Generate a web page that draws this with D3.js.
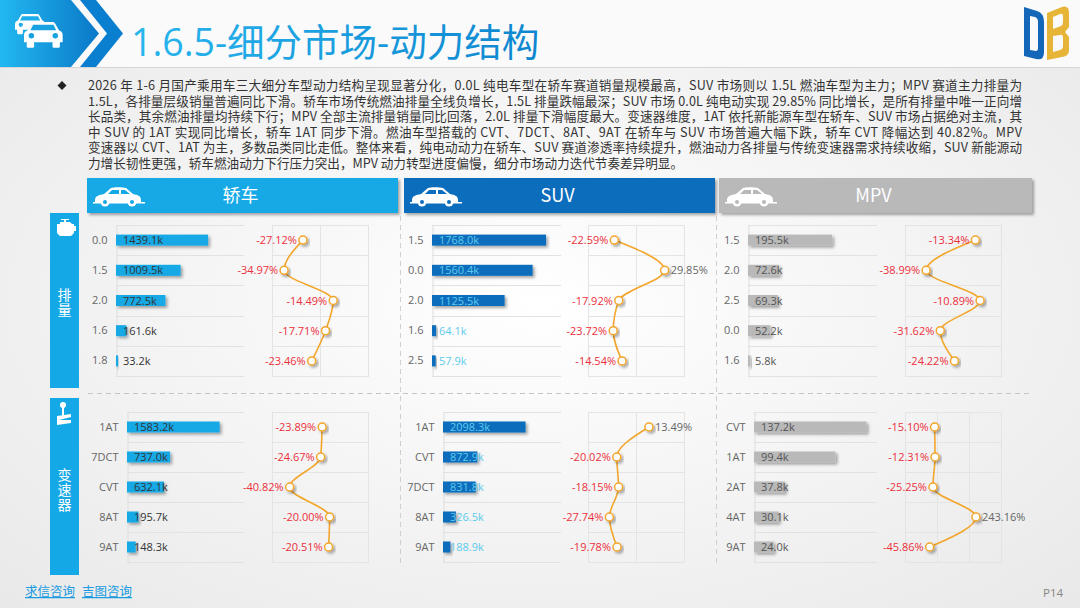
<!DOCTYPE html>
<html>
<head>
<meta charset="utf-8">
<script src="https://cdn.jsdelivr.net/npm/d3@7/dist/d3.min.js"></script>
<style>
  body { margin: 0; background: #f3f3f3; }
  svg { display: block; font-family: "Noto Sans CJK SC", "Noto Sans", sans-serif; }
</style>
</head>
<body>
<svg id="chart" width="1080" height="608"></svg>
<script>
// ---- data ----
var sedanEngineCats = ['0.0', '1.5', '2.0', '1.6', '1.8']
  , sedanEngineSales = [1439.1, 1009.5, 772.5, 161.6, 33.2]
  , sedanEngineYoy = [-27.12, -34.97, -14.49, -17.71, -23.46]

var suvEngineCats = ['1.5', '0.0', '2.0', '1.6', '2.5']
  , suvEngineSales = [1768.0, 1560.4, 1125.5, 64.1, 57.9]
  , suvEngineYoy = [-22.59, 29.85, -17.92, -23.72, -14.54]

var mpvEngineCats = ['1.5', '2.0', '2.5', '0.0', '1.6']
  , mpvEngineSales = [195.5, 72.6, 69.3, 52.2, 5.8]
  , mpvEngineYoy = [-13.34, -38.99, -10.89, -31.62, -24.22]

var sedanTransCats = ['1AT', '7DCT', 'CVT', '8AT', '9AT']
  , sedanTransSales = [1583.2, 737.0, 632.1, 195.7, 148.3]
  , sedanTransYoy = [-23.89, -24.67, -40.82, -20.00, -20.51]

var suvTransCats = ['1AT', 'CVT', '7DCT', '8AT', '9AT']
  , suvTransSales = [2098.3, 872.9, 831.8, 326.5, 188.9]
  , suvTransYoy = [13.49, -20.02, -18.15, -27.74, -19.78]

var mpvTransCats = ['CVT', '1AT', '2AT', '4AT', '9AT']
  , mpvTransSales = [137.2, 99.4, 37.8, 30.1, 24.0]
  , mpvTransYoy = [-15.10, -12.31, -25.25, 243.16, -45.86]

var segmentNames = ['轿车', 'SUV', 'MPV']
var groupNames = ['排量', '变速器']

var title = '1.6.5-细分市场-动力结构'
var paragraph = [
  '2026 年 1-6 月国产乘用车三大细分车型动力结构呈现显著分化，0.0L 纯电车型在轿车赛道销量规模最高，SUV 市场则以 1.5L 燃油车型为主力；MPV 赛道主力排量为',
  '1.5L，各排量层级销量普遍同比下滑。轿车市场传统燃油排量全线负增长，1.5L 排量跌幅最深；SUV 市场 0.0L 纯电动实现 29.85% 同比增长，是所有排量中唯一正向增',
  '长品类，其余燃油排量均持续下行；MPV 全部主流排量销量同比回落，2.0L 排量下滑幅度最大。变速器维度，1AT 依托新能源车型在轿车、SUV 市场占据绝对主流，其',
  '中 SUV 的 1AT 实现同比增长，轿车 1AT 同步下滑。燃油车型搭载的 CVT、7DCT、8AT、9AT 在轿车与 SUV 市场普遍大幅下跌，轿车 CVT 降幅达到 40.82%。MPV',
  '变速器以 CVT、1AT 为主，多数品类同比走低。整体来看，纯电动动力在轿车、SUV 赛道渗透率持续提升，燃油动力各排量与传统变速器需求持续收缩，SUV 新能源动',
  '力增长韧性更强，轿车燃油动力下行压力突出，MPV 动力转型进度偏慢，细分市场动力迭代节奏差异明显。'
]

// ---- layout ----
var colors = { sedan: '#14a9e6', suv: '#0b6dbd', mpv: '#b9b9b9', line: '#f2a62c', neg: '#ec2f3b', pos: '#666' }
var rowsEngine = [225, 376], rowsTrans = [412, 562]

var panels = [
  { cats: sedanEngineCats, sales: sedanEngineSales, yoy: sedanEngineYoy, rows: rowsEngine, bar: colors.sedan, lab: '#333',
    barX: [116, 244], barMax: 2000, lineX: [272, 368], dom: [-40, 0], grid: [-20] },
  { cats: suvEngineCats, sales: suvEngineSales, yoy: suvEngineYoy, rows: rowsEngine, bar: colors.suv, lab: '#5ccbec',
    barX: [432, 561], barMax: 2000, lineX: [588, 684], dom: [-50, 50], grid: [0] },
  { cats: mpvEngineCats, sales: mpvEngineSales, yoy: mpvEngineYoy, rows: rowsEngine, bar: colors.mpv, lab: '#555',
    barX: [748, 877], barMax: 300, lineX: [905, 1001], dom: [-50, 0], grid: [] },
  { cats: sedanTransCats, sales: sedanTransSales, yoy: sedanTransYoy, rows: rowsTrans, bar: colors.sedan, lab: '#333',
    barX: [127, 244], barMax: 2000, lineX: [272, 368], dom: [-50, 0], grid: [] },
  { cats: suvTransCats, sales: suvTransSales, yoy: suvTransYoy, rows: rowsTrans, bar: colors.suv, lab: '#5ccbec',
    barX: [443, 561], barMax: 3000, lineX: [588, 684], dom: [-50, 50], grid: [0] },
  { cats: mpvTransCats, sales: mpvTransSales, yoy: mpvTransYoy, rows: rowsTrans, bar: colors.mpv, lab: '#555',
    barX: [754, 877], barMax: 150, lineX: [905, 1001], dom: [-200, 400], grid: [0, 200] }
]

var svg = d3.select('#chart')
var defs = svg.append('defs')

var bg = defs.append('radialGradient').attr('id', 'bg').attr('cx', '50%').attr('cy', '50%').attr('r', '70%')
bg.append('stop').attr('offset', '0%').attr('stop-color', '#ffffff')
bg.append('stop').attr('offset', '100%').attr('stop-color', '#e9e9e9')

var hdr = defs.append('linearGradient').attr('id', 'hdr')
hdr.append('stop').attr('offset', '0%').attr('stop-color', '#22b8f0')
hdr.append('stop').attr('offset', '100%').attr('stop-color', '#0a78c8')

var ttl = defs.append('linearGradient').attr('id', 'ttl')
ttl.append('stop').attr('offset', '0%').attr('stop-color', '#27b6ee')
ttl.append('stop').attr('offset', '100%').attr('stop-color', '#0d86cf')

var shadow = defs.append('filter').attr('id', 'shadow').attr('x', '-20%').attr('y', '-50%').attr('width', '150%').attr('height', '220%')
shadow.append('feDropShadow').attr('dx', 2).attr('dy', 2).attr('stdDeviation', 1.4)
  .attr('flood-color', '#000').attr('flood-opacity', 0.35)

svg.append('rect').attr('width', 1080).attr('height', 608).attr('fill', 'url(#bg)')

// ---- header ----
svg.append('rect').attr('width', 1080).attr('height', 67).attr('fill', '#fafafa')
svg.append('line').attr('x1', 0).attr('x2', 1080).attr('y1', 67.5).attr('y2', 67.5).attr('stroke', '#d6d6d6')
svg.append('path').attr('d', 'M0,0 L71,0 L99,33.5 L71,67 L0,67 Z').attr('fill', 'url(#hdr)')
svg.append('path').attr('d', 'M80,0 L96,0 L123,33.5 L96,67 L80,67 L107,33.5 Z').attr('fill', '#0b7fcf')

var carIcon = function(g, fill, hole) {
  g.append('path').attr('fill', fill)
    .attr('d', 'M0,22 L0,14 C0,11 2,10 4,9 L8,2 C9,0 10,0 12,0 L30,0 C32,0 33,0 34,2 L38,9 C40,10 42,11 42,14 L42,22 Z')
  g.append('path').attr('fill', hole).attr('d', 'M10,3 L32,3 L35,9 L7,9 Z')
  g.append('circle').attr('cx', 8).attr('cy', 15).attr('r', 3).attr('fill', hole)
  g.append('circle').attr('cx', 34).attr('cy', 15).attr('r', 3).attr('fill', hole)
  g.append('rect').attr('x', 3).attr('y', 21).attr('width', 8).attr('height', 7).attr('rx', 1.5).attr('fill', fill)
  g.append('rect').attr('x', 31).attr('y', 21).attr('width', 8).attr('height', 7).attr('rx', 1.5).attr('fill', fill)
}
carIcon(svg.append('g').attr('transform', 'translate(15,14) scale(0.72)'), '#fff', '#1cacea')
carIcon(svg.append('g').attr('transform', 'translate(24,22) scale(0.92)'), '#fff', '#18a2e2')

svg.append('text').attr('x', 131).attr('y', 56).attr('font-size', 37.5).attr('fill', 'url(#ttl)')
  .attr('font-family', '"Open Sans", "Noto Sans CJK SC", sans-serif').text(title)

// logo
svg.append('path').attr('fill', '#1466b8').attr('fill-rule', 'evenodd')
  .attr('d', 'M1024,7 L1037,11 Q1044,13 1044,22 L1044,52 Q1044,61 1036,59 L1024,56 Z M1030,16 L1030,50 L1036,51 Q1038,51 1038,48 L1038,22 Q1038,18 1035,17 Z')
svg.append('path').attr('fill', '#e6b437').attr('fill-rule', 'evenodd')
  .attr('d', 'M1047,13 L1062,7 Q1069,5 1069,13 L1069,27 L1065,32 L1069,37 L1069,50 Q1069,56 1062,57 L1047,60 Z M1053,17 L1053,29 L1061,26 Q1063,25 1063,22 L1063,16 Q1063,13 1060,14 Z M1053,36 L1053,52 L1060,50 Q1063,49 1063,46 L1063,38 Q1063,34 1060,35 Z')

// ---- paragraph ----
svg.append('path').attr('d', 'M62,81 L66.5,85.5 L62,90 L57.5,85.5 Z').attr('fill', '#222')
svg.selectAll('text.para').data(paragraph).enter().append('text').attr('class', 'para')
  .attr('x', 88).attr('y', function(d, i) { return 90 + i * 15.5 })
  .attr('font-size', 12.6).attr('fill', '#333')
  .attr('textLength', function(d, i) { return i < paragraph.length - 1 ? 934 : null })
  .attr('lengthAdjust', 'spacing')
  .text(function(d) { return d })

// ---- segment headers ----
var headers = [
  { x: 87, w: 311, c: colors.sedan },
  { x: 404, w: 311, c: colors.suv },
  { x: 719, w: 313, c: colors.mpv }
]
headers.forEach(function(h, i) {
  svg.append('rect').attr('x', h.x).attr('y', 178).attr('width', h.w).attr('height', 35)
    .attr('fill', h.c).attr('filter', 'url(#shadow)')
  svg.append('text').attr('x', h.x + h.w / 2 - 2).attr('y', 202).attr('text-anchor', 'middle')
    .attr('font-size', 18).attr('fill', '#fff').text(segmentNames[i])
  var g = svg.append('g').attr('transform', 'translate(' + (h.x + 6) + ',186)')
  g.append('path').attr('fill', '#fff')
    .attr('d', 'M2,14 C2,10 6,9 11,8 L18,2 C20,1 30,1 33,2 L40,8 C45,9 48,10 48,14 L48,16 L2,16 Z')
  g.append('path').attr('fill', h.c).attr('d', 'M19,4 L26,4 L26,8 L15,8 Z M28,4 L32,4 L37,8 L28,8 Z')
  g.append('rect').attr('x', 0).attr('y', 16).attr('width', 52).attr('height', 1.5).attr('fill', '#fff')
  ;[12, 39].forEach(function(cx) {
    g.append('circle').attr('cx', cx).attr('cy', 16).attr('r', 4.5).attr('fill', '#fff')
    g.append('circle').attr('cx', cx).attr('cy', 16).attr('r', 2).attr('fill', h.c)
  })
})

// ---- left group labels (vertical text) ----
var groups = [
  { y: 213, h: 175, cy: 303 },
  { y: 398, h: 177, cy: 490 }
]
groups.forEach(function(gr, i) {
  svg.append('rect').attr('x', 50).attr('y', gr.y).attr('width', 29).attr('height', gr.h).attr('fill', colors.sedan)
  svg.append('text').attr('x', 64.5).attr('y', gr.cy).attr('text-anchor', 'middle')
    .style('writing-mode', 'vertical-rl').attr('letter-spacing', 1)
    .attr('font-size', 14).attr('fill', '#fff').text(groupNames[i])
})
// engine icon
svg.append('path').attr('fill', '#fff')
  .attr('d', 'M57,224 L60,224 L60,222 L64,222 L64,220 L61,220 L61,219 L69,219 L69,220 L66,220 L66,222 L70,222 L72,224 L74,224 L74,226 L76,226 L76,231 L74,231 L74,233 L71,236 L60,236 L57,233 Z')
// gear stick icon
svg.append('circle').attr('cx', 63).attr('cy', 405).attr('r', 3).attr('fill', '#fff')
svg.append('rect').attr('x', 62).attr('y', 407).attr('width', 2).attr('height', 8).attr('fill', '#fff')
svg.append('path').attr('fill', '#fff').attr('d', 'M57,416 L71,414 L71,417 L59,420 L71,420 L71,423 L57,425 Z')

// ---- dashed separators ----
svg.append('line').attr('x1', 88).attr('x2', 1032).attr('y1', 393.5).attr('y2', 393.5)
  .attr('stroke', '#c4c4c4').attr('stroke-dasharray', '5,4')
;[400.5, 716.5].forEach(function(x) {
  svg.append('line').attr('x1', x).attr('x2', x).attr('y1', 216).attr('y2', 565)
    .attr('stroke', '#cfcfcf').attr('stroke-dasharray', '5,4')
})

// ---- panels ----
panels.forEach(function(p) {
  var g = svg.append('g')
  var y = d3.scaleBand().domain(p.cats).range(p.rows)
  var x = d3.scaleLinear().domain([0, p.barMax]).range(p.barX)
  var lx = d3.scaleLinear().domain(p.dom).range(p.lineX)
  var mid = function(c) { return y(c) + y.bandwidth() / 2 }

  // bar grid rows
  var bounds = p.cats.map(function(c) { return y(c) }).concat([p.rows[1]])
  g.selectAll('line.row').data(bounds).enter().append('line')
    .attr('x1', p.barX[0]).attr('x2', p.barX[1])
    .attr('y1', function(d) { return Math.round(d) + 0.5 }).attr('y2', function(d) { return Math.round(d) + 0.5 })
    .attr('stroke', '#e2e2e2')

  // category axis
  var ax = g.append('g').attr('transform', 'translate(' + (p.barX[0] + 0.5) + ',0)')
    .call(d3.axisLeft(y).tickSize(0).tickPadding(9))
  ax.select('.domain').attr('stroke', '#dedede')
  ax.selectAll('text').attr('font-size', 11).attr('fill', '#666').attr('font-family', '"Open Sans", sans-serif')

  // bars
  g.selectAll('rect.bar').data(p.sales).enter().append('rect')
    .attr('x', p.barX[0]).attr('y', function(d, i) { return mid(p.cats[i]) - 5.5 })
    .attr('width', function(d) { return x(d) - p.barX[0] }).attr('height', 11)
    .attr('fill', p.bar).attr('filter', 'url(#shadow)')
  g.selectAll('text.val').data(p.sales).enter().append('text')
    .attr('x', p.barX[0] + 7).attr('y', function(d, i) { return mid(p.cats[i]) + 4 })
    .attr('font-size', 11).attr('fill', p.lab).attr('font-family', '"Open Sans", sans-serif')
    .text(function(d) { return d.toFixed(1) + 'k' })

  // line box
  g.append('rect').attr('x', p.lineX[0] + 0.5).attr('y', p.rows[0] + 0.5)
    .attr('width', p.lineX[1] - p.lineX[0]).attr('height', p.rows[1] - p.rows[0])
    .attr('fill', 'none').attr('stroke', '#e4e4e4')
  g.selectAll('line.lrow').data(bounds.slice(1, -1)).enter().append('line')
    .attr('x1', p.lineX[0]).attr('x2', p.lineX[1])
    .attr('y1', function(d) { return Math.round(d) + 0.5 }).attr('y2', function(d) { return Math.round(d) + 0.5 })
    .attr('stroke', '#e4e4e4')
  g.selectAll('line.vgrid').data(p.grid).enter().append('line')
    .attr('x1', function(d) { return Math.round(lx(d)) + 0.5 }).attr('x2', function(d) { return Math.round(lx(d)) + 0.5 })
    .attr('y1', p.rows[0]).attr('y2', p.rows[1]).attr('stroke', '#e4e4e4')

  var pts = p.yoy.map(function(v, i) { return [lx(v), mid(p.cats[i])] })
  g.append('path').attr('d', d3.line().curve(d3.curveMonotoneY)(pts))
    .attr('fill', 'none').attr('stroke', colors.line).attr('stroke-width', 1.6)
  g.selectAll('circle.pt').data(pts).enter().append('circle')
    .attr('cx', function(d) { return d[0] }).attr('cy', function(d) { return d[1] }).attr('r', 4)
    .attr('fill', '#fff').attr('stroke', colors.line).attr('stroke-width', 1.5).attr('filter', 'url(#shadow)')
  g.selectAll('text.yoy').data(p.yoy).enter().append('text')
    .attr('x', function(d, i) { return pts[i][0] + (d < 0 ? -6 : 6) })
    .attr('y', function(d, i) { return pts[i][1] + 4 })
    .attr('text-anchor', function(d) { return d < 0 ? 'end' : 'start' })
    .attr('font-size', 11).attr('font-family', '"Open Sans", sans-serif')
    .attr('fill', function(d) { return d < 0 ? colors.neg : colors.pos })
    .text(function(d) { return d.toFixed(2) + '%' })
})

// ---- footer ----
;[['求信咨询', 25], ['吉图咨询', 82]].forEach(function(f) {
  svg.append('text').attr('x', f[1]).attr('y', 596).attr('font-size', 12.5).attr('fill', '#1a9be0')
    .attr('text-decoration', 'underline').text(f[0])
})
svg.append('text').attr('x', 1043).attr('y', 597).attr('font-size', 11.5).attr('fill', '#888')
  .attr('font-family', '"Open Sans", sans-serif').text('P14')
</script>
</body>
</html>
